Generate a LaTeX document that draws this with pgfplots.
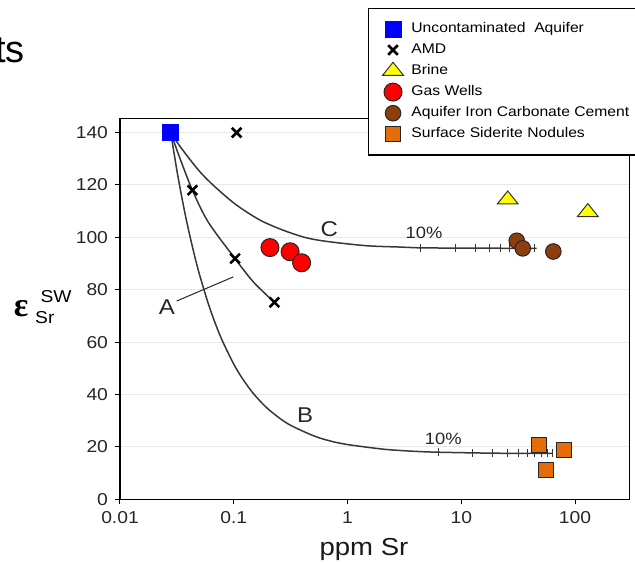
\documentclass[border=0pt]{standalone}
\usepackage{pgfplots}
\pgfplotsset{compat=1.18}
\usepackage{fontspec}
\setmainfont{Liberation Sans}[FakeStretch=1.12]
\newfontfamily\titlefont{Liberation Sans}
\newfontfamily\greekfont{Liberation Serif}

\definecolor{aqblue}{RGB}{0,0,255}
\definecolor{gasred}{RGB}{255,0,0}
\definecolor{brineyel}{RGB}{255,255,0}
\definecolor{cementbrown}{RGB}{140,62,12}
\definecolor{sideriteorg}{RGB}{228,108,10}
\definecolor{curvegray}{RGB}{55,55,55}

\pgfplotsset{
  mk/.style={only marks,
    legend image code/.code={\draw[##1] plot coordinates {(0cm,0cm)};}},
}

\begin{document}
\begin{tikzpicture}
\useasboundingbox (0,0) rectangle (317.5pt,281.5pt);
\node[anchor=base east, font=\titlefont\fontsize{19}{19}\selectfont, inner sep=0pt] at (12.5pt,250pt) {ts};
\begin{axis}[
  at={(60pt,31.85pt)}, anchor=south west,
  scale only axis, width=254.75pt, height=190.3pt,
  xmode=log, log basis x=10,
  xmin=0.01, xmax=301, ymin=0, ymax=145.3,
  xtick={0.01,0.1,1,10,100},
  xticklabels={0.01,0.1,1,10,100},
  xminorticks=false,
  ytick={0,20,...,140},
  tick align=outside, xtick pos=bottom, ytick pos=left,
  major tick length=2.5pt,
  every tick/.style={black, line width=0.5pt},
  ticklabel style={font=\fontsize{8.6}{10}\selectfont, black!85},
  /pgf/number format/assume math mode=true,
  ymajorgrids,
  major grid style={black!9, line width=0.5pt},
  axis line style={black, line width=0.75pt},
  clip=false,
  legend style={at={(0.4868,1.2909)}, anchor=north west, draw=black,
    line width=0.6pt, fill=white, font=\fontsize{7}{8}\selectfont,
    inner xsep=7pt, inner ysep=5pt, row sep=0pt,
    /tikz/every odd column/.append style={column sep=2pt}},
  legend cell align=left,
]
% mixing curves
\addplot[forget plot, smooth, curvegray, line width=0.75pt] coordinates {
  (0.0279,140) (0.0337,130.1) (0.0433,118.0) (0.0595,105.9)
  (0.1026,91.9) (0.1486,83.0) (0.2277,75.2)};
\addplot[forget plot, smooth, curvegray, line width=0.75pt] coordinates {
  (0.0279,140) (0.032,124.3) (0.036,112.4) (0.04,102.9) (0.045,93.4)
  (0.05,85.8) (0.06,74.4) (0.07,66.3) (0.08,60.2) (0.1,51.6) (0.12,45.9)
  (0.15,40.2) (0.2,34.5) (0.3,28.8) (0.5,24.3) (0.7,22.3) (1,20.9)
  (2,19.2) (3,18.6) (5,18.1) (10,17.8) (20,17.6) (40,17.5) (63,17.5)};
\addplot[forget plot, smooth, curvegray, line width=0.75pt] coordinates {
  (0.0279,140) (0.0348,133.9) (0.0505,125.0) (0.0708,118.7) (0.106,112.3)
  (0.170,106.6) (0.273,102.7) (0.438,99.8) (0.70,98.3) (1.48,96.8)
  (2.9,96.3) (4.42,96.0) (10,95.9) (46,95.8)};
% 10% steps along B and C
\addplot[forget plot, only marks, mark=|, mark size=2pt,
  mark options={curvegray, line width=0.5pt}] coordinates {
  (4.42,96.0) (8.81,95.9) (13.21,95.85) (17.61,95.8) (22.01,95.8)
  (26.41,95.8) (30.81,95.8) (35.2,95.8) (39.6,95.8) (44,95.8)};
\addplot[forget plot, only marks, mark=|, mark size=2pt,
  mark options={curvegray, line width=0.5pt}] coordinates {
  (6.32,18.0) (12.62,17.7) (18.92,17.6) (25.22,17.6) (31.51,17.55)
  (37.81,17.55) (44.11,17.5) (50.41,17.5) (56.7,17.5) (63,17.5)};

\addplot[mk, mark=square*, mark size=4pt,
  mark options={fill=aqblue, draw=aqblue, line width=0.4pt}]
  coordinates {(0.0279,140)};
\addlegendentry{Uncontaminated\ \ Aquifer}
\addplot[mk, mark=x, mark size=3.4pt,
  mark options={black, line width=1.3pt}]
  coordinates {(0.106,140) (0.0433,118.0) (0.1026,91.9) (0.2277,75.2)};
\addlegendentry{AMD}
\addplot[mk, mark=triangle*, mark size=6pt,
  mark options={fill=brineyel, draw=black!80, line width=0.5pt, yscale=0.72}]
  coordinates {(25.6,114.4) (129.5,109.6)};
\addlegendentry{Brine}
\addplot[mk, mark=*, mark size=4.5pt,
  mark options={fill=gasred, draw=black!85, line width=0.5pt}]
  coordinates {(0.208,96.1) (0.313,94.5) (0.395,90.3)};
\addlegendentry{Gas Wells}
\addplot[mk, mark=*, mark size=3.9pt,
  mark options={fill=cementbrown, draw=black!85, line width=0.5pt}]
  coordinates {(30.7,98.7) (34.7,95.8) (64.4,94.6)};
\addlegendentry{Aquifer Iron Carbonate Cement}
\addplot[mk, mark=square*, mark size=3.8pt,
  mark options={fill=sideriteorg, draw=black!85, line width=0.5pt}]
  coordinates {(48.5,20.7) (80.5,18.8) (55.6,11.2)};
\addlegendentry{Surface Siderite Nodules}

% annotations
\node[font=\fontsize{10.7}{12}\selectfont, black!85] at (axis cs:0.0258,73.5) {A};
\draw[black!85, line width=0.5pt] (axis cs:0.0315,75.7) -- (axis cs:0.099,84.9);
\node[font=\fontsize{10.7}{12}\selectfont, black!85] at (axis cs:0.423,32.2) {B};
\node[font=\fontsize{10.7}{12}\selectfont, black!85] at (axis cs:0.692,103) {C};
\node[font=\fontsize{8.2}{10}\selectfont, black!85] at (axis cs:4.7,101.9) {10\%};
\node[font=\fontsize{8.2}{10}\selectfont, black!85] at (axis cs:6.95,23.0) {10\%};
\end{axis}
\node[font=\fontsize{12.3}{14}\selectfont, black!90] at (182pt,7pt) {ppm Sr};
\node[font=\greekfont\bfseries\fontsize{17}{17}\selectfont, inner sep=0pt] at (10.6pt,127pt) {ε};
\node[font=\fontsize{8.6}{10.6}\selectfont, inner sep=0pt, anchor=west, align=left]
  at (17.4pt,127.8pt) {\ SW\\Sr};
\end{tikzpicture}
\end{document}
